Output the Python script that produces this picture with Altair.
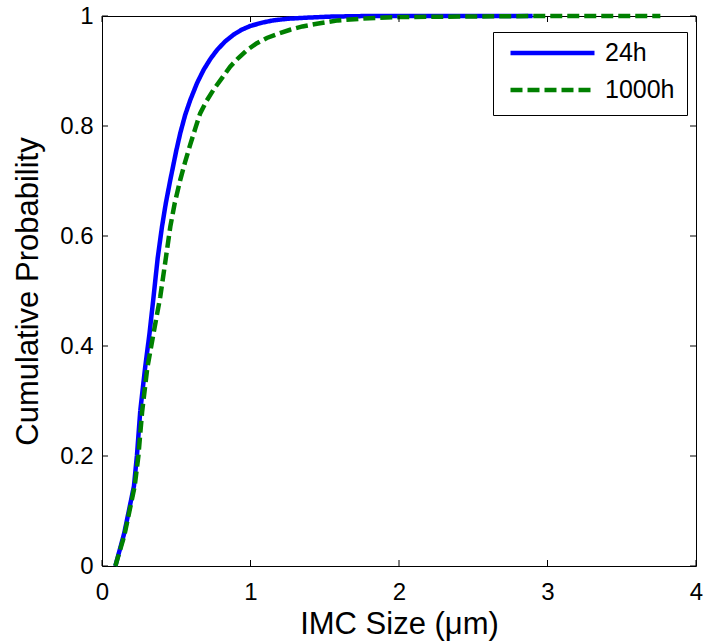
import altair as alt
import pandas as pd

# ---- data ----
series_names = ["24h", "1000h"]
series_colors = ["#0000ff", "#008000"]

x_24h = [0.09, 0.15, 0.215, 0.235, 0.258, 0.291, 0.32, 0.347, 0.375, 0.404, 0.43, 0.46,
         0.50, 0.527, 0.56, 0.594, 0.64, 0.684, 0.73, 0.774, 0.83, 0.886, 0.94, 1.0,
         1.08, 1.153, 1.25, 1.38, 1.55, 1.8, 2.2, 2.9]
y_24h = [0.0, 0.06, 0.145, 0.2, 0.283, 0.362, 0.423, 0.489, 0.56, 0.617, 0.66, 0.702,
         0.755, 0.787, 0.82, 0.847, 0.878, 0.902, 0.922, 0.938, 0.954, 0.966, 0.975, 0.982,
         0.988, 0.992, 0.995, 0.997, 0.999, 1.0, 1.0, 1.0]

x_1000h = [0.09, 0.15, 0.22, 0.245, 0.27, 0.305, 0.347, 0.392, 0.43, 0.46, 0.49, 0.527,
           0.56, 0.594, 0.63, 0.661, 0.705, 0.751, 0.81, 0.863, 0.92, 0.976, 1.04, 1.11,
           1.19, 1.267, 1.35, 1.447, 1.59, 1.8, 2.0, 2.4, 3.0, 3.76]
y_1000h = [0.0, 0.055, 0.145, 0.2, 0.28, 0.36, 0.423, 0.489, 0.56, 0.617, 0.66, 0.702,
           0.735, 0.766, 0.797, 0.823, 0.846, 0.866, 0.888, 0.908, 0.924, 0.938, 0.95, 0.96,
           0.968, 0.975, 0.981, 0.986, 0.992, 0.996, 0.998, 0.999, 1.0, 1.0]

x_ticks = [0, 1, 2, 3, 4]
y_ticks = [0, 0.2, 0.4, 0.6, 0.8, 1]

# ---- layout ----
W, H = 594, 550
TICK = 6
FONT = "Liberation Sans"

df = pd.DataFrame({
    "size": x_24h + x_1000h,
    "prob": y_24h + y_1000h,
    "series": ["24h"] * len(x_24h) + ["1000h"] * len(x_1000h),
    "order": list(range(len(x_24h))) + list(range(len(x_1000h))),
})

xscale = alt.Scale(domain=[0, 4], nice=False, zero=False)
yscale = alt.Scale(domain=[0, 1], nice=False, zero=False)

xaxis = alt.Axis(values=x_ticks, format="~g", title="IMC Size (μm)",
                 labelPadding=14, labelFlush=False, titleY=67,
                 titleBaseline="alphabetic")
yaxis = alt.Axis(values=y_ticks, format="~g", title="Cumulative Probability",
                 labelPadding=9, labelFlush=False, titleX=-65, titleAngle=270,
                 titleBaseline="alphabetic")

lines = alt.Chart(df).mark_line(strokeWidth=4.5).encode(
    x=alt.X("size:Q", scale=xscale, axis=xaxis),
    y=alt.Y("prob:Q", scale=yscale, axis=yaxis),
    color=alt.Color("series:N", scale=alt.Scale(domain=series_names, range=series_colors),
                    legend=alt.Legend(title=None)),
    strokeDash=alt.StrokeDash("series:N",
                              scale=alt.Scale(domain=series_names, range=[[1, 0], [12, 5]]),
                              legend=alt.Legend(title=None)),
    order="order:Q",
)

tdx = pd.DataFrame({"v": x_ticks})
tdy = pd.DataFrame({"v": y_ticks})

bottom_ticks = alt.Chart(tdx).mark_rule(color="black", strokeWidth=1).encode(
    x=alt.X("v:Q", scale=xscale, axis=xaxis), y=alt.value(H), y2=alt.value(H - TICK))
top_ticks = alt.Chart(tdx).mark_rule(color="black", strokeWidth=1).encode(
    x=alt.X("v:Q", scale=xscale, axis=xaxis), y=alt.value(0), y2=alt.value(TICK))
left_ticks = alt.Chart(tdy).mark_rule(color="black", strokeWidth=1).encode(
    y=alt.Y("v:Q", scale=yscale, axis=yaxis), x=alt.value(0), x2=alt.value(TICK))
right_ticks = alt.Chart(tdy).mark_rule(color="black", strokeWidth=1).encode(
    y=alt.Y("v:Q", scale=yscale, axis=yaxis), x=alt.value(W - TICK), x2=alt.value(W))

chart = alt.layer(lines, bottom_ticks, top_ticks, left_ticks, right_ticks).properties(
    width=W, height=H,
    padding={"left": 102, "top": 16, "right": 8, "bottom": 78},
    autosize=alt.AutoSizeParams(type="none"),
    background="white",
).configure_view(
    stroke="black", strokeWidth=1
).configure_axis(
    labelFont=FONT, labelFontSize=24, labelColor="black",
    titleFont=FONT, titleFontSize=31, titleColor="black", titleFontWeight="normal",
    grid=False, ticks=False, tickSize=0, domain=False, labelOverlap=False,
).configure_legend(
    orient="none", legendX=391, legendY=16, padding=12,
    fillColor="white", strokeColor="black", strokeWidth=1, cornerRadius=0,
    labelFont=FONT, labelFontSize=25, labelColor="black", labelOffset=8,
    symbolType="stroke", symbolSize=7056, symbolStrokeWidth=4.5, symbolOffset=3,
    clipHeight=18, rowPadding=12,
)

chart.save("out.html", embed_options={"renderer": "svg", "actions": False})
